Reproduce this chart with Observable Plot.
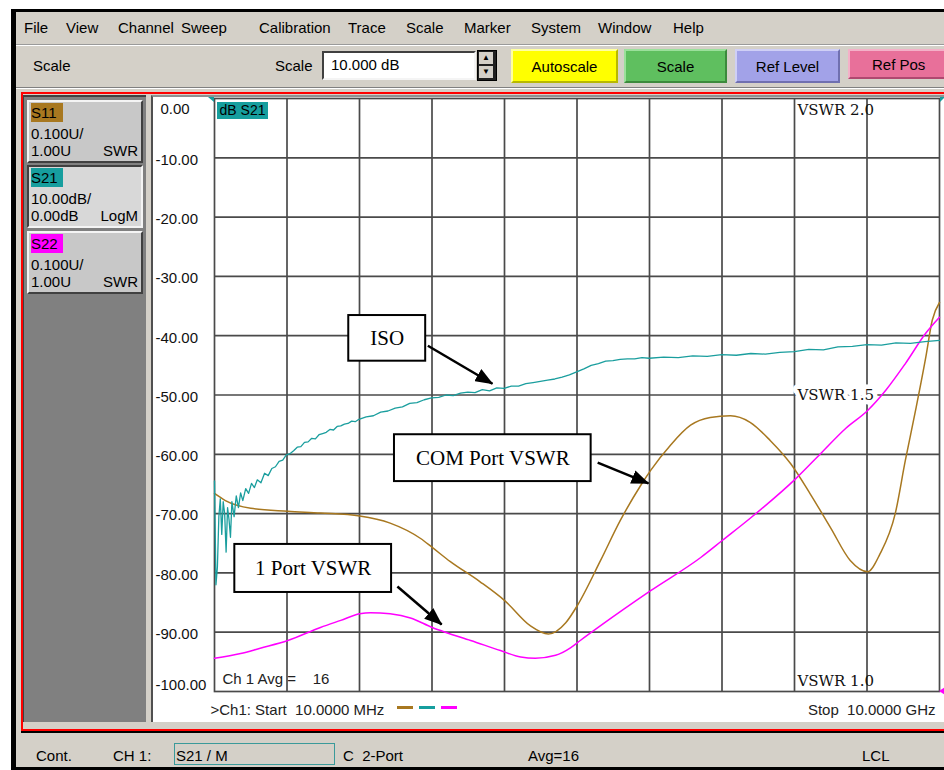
<!DOCTYPE html>
<html>
<head>
<meta charset="utf-8">
<script src="https://cdn.jsdelivr.net/npm/d3@7"></script>
<script src="https://cdn.jsdelivr.net/npm/@observablehq/plot@0.6"></script>
<style>
html,body{margin:0;padding:0;background:#fff;}
body{width:944px;height:770px;position:relative;overflow:hidden;font-family:"Liberation Sans",Arial,sans-serif;font-size:15px;color:#000;}
.a{position:absolute;white-space:pre;line-height:17px;}
.btn{position:absolute;top:49px;height:30px;border:2px solid;border-color:#f0f0f0 #6a6a6a #6a6a6a #f0f0f0;display:flex;align-items:center;justify-content:center;}
.tb{position:absolute;left:27px;width:112px;height:59px;background:#c8c8c8;border:2px solid;border-color:#f4f4f4 #404040 #404040 #f4f4f4;}
.tb .lab{position:absolute;left:2px;top:1px;width:32px;height:19px;line-height:19px;}
.tb .l1{position:absolute;left:2px;top:23px;line-height:17px;}
.tb .l2{position:absolute;left:2px;top:40px;line-height:17px;}
.tb .r2{position:absolute;right:3px;top:40px;line-height:17px;}
svg text{white-space:pre;}
</style>
</head>
<body>
<!-- window frame -->
<div class="a" style="left:11px;top:9px;width:940px;height:761px;background:#000"></div>
<div class="a" style="left:16px;top:12px;width:930px;height:755px;background:#d4d0c8"></div>
<div class="a" style="left:16px;top:44px;width:930px;height:1px;background:#9a9a9a"></div>
<div class="a" style="left:16px;top:45px;width:930px;height:1px;background:#fff"></div>
<div class="a" style="left:16px;top:87px;width:930px;height:1px;background:#808080"></div>
<div class="a" style="left:16px;top:88px;width:930px;height:1px;background:#fff"></div>

<!-- menu -->
<div id="menu"></div>

<!-- toolbar -->
<div class="a" style="left:33px;top:57px">Scale</div>
<div class="a" style="left:275px;top:57px">Scale</div>
<div class="a" style="left:322px;top:51px;width:150px;height:25px;background:#fff;border:2px solid;border-color:#404040 #f4f4f4 #f4f4f4 #404040"></div>
<div class="a" style="left:331px;top:56px">10.000 dB</div>
<div class="a" style="left:477px;top:50px;width:18px;height:29px;background:#202020;border:1px solid #000"></div>
<div class="a" style="left:479px;top:52px;width:14px;height:12px;background:#d4d0c8;font-size:8px;line-height:12px;text-align:center">▲</div>
<div class="a" style="left:479px;top:66px;width:14px;height:12px;background:#d4d0c8;font-size:8px;line-height:12px;text-align:center">▼</div>
<div class="btn" style="left:511px;width:103px;background:#ffff00;border-color:#ffffa0 #b8b800 #b8b800 #ffffa0">Autoscale</div>
<div class="btn" style="left:624px;width:99px;background:#5fbf5f;border-color:#9be09b #3c8a3c #3c8a3c #9be09b">Scale</div>
<div class="btn" style="left:735px;width:101px;background:#a2a2e8;border-color:#cfcff6 #7070b0 #7070b0 #cfcff6">Ref Level</div>
<div class="btn" style="left:848px;background:#e8709a;border-color:#f4b0c8 #b04870 #b04870 #f4b0c8;justify-content:flex-start;padding-left:22px;box-sizing:border-box;width:114px">Ref Pos</div>

<!-- red frame -->
<div class="a" style="left:21px;top:92px;width:930px;height:639px;border:2px solid #ff0000;box-sizing:border-box"></div>
<div class="a" style="left:21px;top:731px;width:930px;height:2px;background:#000"></div>

<!-- left trace panel -->
<div class="a" style="left:23px;top:95px;width:123px;height:627px;background:#808080;border-top:2px solid #404040;border-left:1px solid #404040;box-sizing:border-box"></div>
<div class="tb" style="top:100px">
  <div class="lab" style="background:#a87820">S11</div>
  <div class="l1">0.100U/</div>
  <div class="l2">1.00U</div>
  <div class="r2">SWR</div>
</div>
<div class="tb" style="top:165px;background:#d8d8d8;border-color:#404040 #f4f4f4 #f4f4f4 #404040">
  <div class="lab" style="background:#169e9e">S21</div>
  <div class="l1">10.00dB/</div>
  <div class="l2">0.00dB</div>
  <div class="r2">LogM</div>
</div>
<div class="tb" style="top:231px">
  <div class="lab" style="background:#ff00ff">S22</div>
  <div class="l1">0.100U/</div>
  <div class="l2">1.00U</div>
  <div class="r2">SWR</div>
</div>

<!-- chart panel -->
<div class="a" style="left:151px;top:95px;width:793px;height:627px;background:#fff;border-left:2px solid #505050;border-top:2px solid #909090;box-sizing:border-box"></div>
<div id="chart" class="a" style="left:153px;top:97px;width:791px;height:625px"></div>
<div class="a" style="left:217px;top:102px;width:51px;height:17px;background:#169e9e;font-size:14px;line-height:17px;text-align:center">dB S21</div>
<div class="a" style="left:208px;top:97px;width:0;height:0;border-left:6px solid transparent;border-top:5px solid #169e9e"></div>
<div class="a" style="left:940px;top:97px;width:0;height:0;border-right:5px solid transparent;border-top:5px solid #169e9e"></div>
<div class="a" style="left:939px;top:687px;width:0;height:0;border-top:4px solid transparent;border-bottom:4px solid transparent;border-right:6px solid #ff00ff"></div>
<div class="a" style="left:397px;top:706px;width:16px;height:3px;background:#a87820"></div>
<div class="a" style="left:419px;top:706px;width:16px;height:3px;background:#169e9e"></div>
<div class="a" style="left:441px;top:706px;width:16px;height:3px;background:#ff00ff"></div>

<!-- status bar -->
<div class="a" style="left:36px;top:747px">Cont.</div>
<div class="a" style="left:113px;top:747px">CH 1:</div>
<div class="a" style="left:174px;top:743px;width:161px;height:22px;border:1px solid #3a9a9a;box-sizing:border-box"></div>
<div class="a" style="left:176px;top:747px">S21 / M</div>
<div class="a" style="left:343px;top:747px">C  2-Port</div>
<div class="a" style="left:528px;top:747px">Avg=16</div>
<div class="a" style="left:862px;top:747px">LCL</div>

<script>
// ---------- data ----------
const menuItems = ["File","View","Channel","Sweep","Calibration","Trace","Scale","Marker","System","Window","Help"];
const menuX = [24,66,118,181,259,348,406,464,531,598,673];

const startGHz = 0.01, stopGHz = 10;
const divisions = 10;
const dbPerDiv = 10, refDb = 0;          // S21 LogM, ref at top
const swrPerDiv = 0.1, swrRef = 1.0;     // S11/S22 SWR, ref at bottom

const yTicks = [0,-10,-20,-30,-40,-50,-60,-70,-80,-90,-100];
const yTickLabels = ["0.00","-10.00","-20.00","-30.00","-40.00","-50.00","-60.00","-70.00","-80.00","-90.00","-100.00"];
const vswrMarks = [2.0, 1.5, 1.0];

// S21 isolation (dB)
const s21Freq = [0.01,0.03,0.05,0.07,0.09,0.11,0.13,0.15,0.17,0.19,0.21,0.23,0.25,0.28,0.31,0.34,0.37,0.40,0.44,0.48,
  0.52,0.56,0.60,0.65,0.70,0.75,0.80,0.85,0.90,0.95,1.00,1.05,1.10,1.15,1.20,1.25,1.30,1.35,1.40,1.45,
  1.50,1.55,1.60,1.65,1.70,1.75,1.80,1.85,1.90,1.95,2.00,2.10,2.20,2.30,2.40,2.50,2.60,2.70,2.80,2.90,
  3.00,3.10,3.20,3.30,3.40,3.50,3.60,3.70,3.80,3.90,4.00,4.10,4.20,4.30,4.40,4.50,4.60,4.70,4.80,4.90,
  5.00,5.10,5.20,5.30,5.40,5.50,5.60,5.70,5.80,5.90,6.00,6.20,6.40,6.60,6.80,7.00,7.20,7.40,7.60,7.80,
  8.00,8.20,8.40,8.60,8.80,9.00,9.20,9.40,9.60,9.80,10.00];
const s21Db = [-64.5,-82.0,-79.0,-70.5,-67.5,-73.5,-68.0,-70.0,-76.5,-69.0,-71.0,-74.0,-68.0,-70.5,-67.0,-69.0,-66.5,-67.8,-65.8,-66.6,
  -64.9,-65.6,-64.3,-64.8,-63.2,-63.6,-62.4,-62.1,-61.2,-61.0,-60.1,-59.9,-59.4,-58.8,-58.7,-58.0,-57.9,-57.3,-57.4,-56.7,
  -56.5,-56.3,-55.8,-55.9,-55.3,-55.2,-54.9,-54.8,-54.4,-54.5,-54.1,-53.7,-53.5,-52.9,-52.7,-52.2,-52.0,-51.4,-51.3,-50.8,
  -50.5,-50.4,-50.0,-50.1,-49.7,-49.5,-49.6,-49.1,-49.3,-48.8,-48.9,-48.5,-48.5,-48.1,-47.9,-47.7,-47.5,-47.3,-47.0,-46.6,
  -46.1,-45.6,-45.0,-44.7,-44.3,-44.2,-44.0,-43.9,-43.9,-43.7,-43.8,-43.6,-43.7,-43.4,-43.5,-43.2,-43.3,-43.0,-43.1,-42.8,
  -42.7,-42.3,-42.4,-41.9,-41.8,-41.5,-41.6,-41.2,-41.3,-41.0,-40.8];

// S11 COM port VSWR
const s11Freq = [0.01,0.16,0.51,1.02,1.47,2.01,2.43,2.85,3.01,3.26,3.67,4.02,4.36,4.61,4.85,5.01,5.33,5.60,5.88,6.02,
  6.29,6.57,6.84,7.12,7.39,7.67,7.95,8.22,8.50,8.77,9.01,9.18,9.39,9.53,9.67,9.81,9.90,10.0];
const s11Swr = [1.334,1.322,1.309,1.304,1.301,1.296,1.284,1.258,1.243,1.219,1.185,1.152,1.111,1.097,1.116,1.145,1.221,1.288,1.347,1.373,
  1.415,1.449,1.462,1.465,1.454,1.423,1.384,1.333,1.276,1.221,1.202,1.232,1.300,1.390,1.474,1.563,1.626,1.656];

// S22 1 port VSWR
const s22Freq = [0.01,0.37,0.64,1.02,1.47,1.75,2.01,2.16,2.43,2.71,3.01,3.19,3.54,3.95,4.23,4.43,4.71,4.92,5.05,5.33,
  6.02,6.71,7.01,7.40,8.02,8.36,8.71,9.01,9.26,9.53,9.81,10.0];
const s22Swr = [1.056,1.064,1.073,1.086,1.108,1.120,1.131,1.133,1.131,1.124,1.108,1.100,1.086,1.069,1.058,1.056,1.061,1.074,1.086,1.111,
  1.170,1.226,1.255,1.293,1.359,1.401,1.444,1.474,1.508,1.553,1.604,1.631];

// annotations (in GHz / grid dB)
const annotLabels = ["ISO","COM Port VSWR","1 Port VSWR"];
const annotBoxX = [[1.86,2.92],[2.49,5.20],[0.29,2.45]];
const annotBoxY = [[-36.6,-44.3],[-56.7,-64.6],[-75.2,-83.3]];
const arrowFrom = [[2.95,-41.7],[5.29,-61.4],[2.53,-82.3]];
const arrowTo   = [[3.84,-48.1],[5.99,-64.9],[3.14,-88.7]];

const avgText = "Ch 1 Avg =    16";

// ---------- build ----------
const menu = document.getElementById("menu");
menuItems.forEach((m,i)=>{
  const d=document.createElement("div");d.className="a";d.textContent=m;
  d.style.left=menuX[i]+"px";d.style.top="19px";menu.appendChild(d);
});

const BROWN="#a87820", TEAL="#1a9e9e", MAG="#ff00ff", GRID="#4a4a4a";
const swrToGrid = s => -100 + (s - swrRef) / swrPerDiv * dbPerDiv;
const xGrid = d3.range(divisions+1).map(i => startGHz + i*(stopGHz-startGHz)/divisions);

const s21 = s21Freq.map((f,i)=>({f, v:s21Db[i]}));
const s11 = s11Freq.map((f,i)=>({f, v:swrToGrid(s11Swr[i])}));
const s22 = s22Freq.map((f,i)=>({f, v:swrToGrid(s22Swr[i])}));
const boxes = annotLabels.map((t,i)=>({t, x1:annotBoxX[i][0], x2:annotBoxX[i][1], y1:annotBoxY[i][0], y2:annotBoxY[i][1]}));
const arrows = arrowFrom.map((a,i)=>({x1:a[0], y1:a[1], x2:arrowTo[i][0], y2:arrowTo[i][1]}));

const midTicks = yTicks.slice(1,-1);
const tickLab = v => yTickLabels[yTicks.indexOf(v)];
const vswrDy = [12, 0, -10];

const chart = Plot.plot({
  width: 791, height: 625,
  marginLeft: 61, marginRight: 5, marginTop: 1, marginBottom: 31,
  x: {domain: [startGHz, stopGHz], axis: null},
  y: {domain: [-100, 0], axis: null},
  style: {background: "transparent", fontFamily: "Liberation Sans, Arial, sans-serif", fontSize: "15px", overflow: "visible", color: "#000"},
  marks: [
    Plot.ruleX(xGrid.slice(1,-1), {stroke: GRID, strokeWidth: 1.7}),
    Plot.ruleY(midTicks, {stroke: GRID, strokeWidth: 1.7}),
    Plot.frame({stroke: GRID, strokeWidth: 1.7}),
    // y tick labels
    Plot.text(midTicks, {y: d=>d, text: tickLab, frameAnchor: "left", textAnchor: "start", dx: -59, dy: 2, fill: "#111"}),
    Plot.text([0], {y: d=>d, text: tickLab, frameAnchor: "left", textAnchor: "start", dx: -54, dy: 11, fill: "#111"}),
    Plot.text([-100], {y: d=>d, text: tickLab, frameAnchor: "left", textAnchor: "start", dx: -59, dy: -6, fill: "#111"}),
    // VSWR labels
    ...vswrMarks.map((s,i)=> Plot.text([s], {x: xGrid[8], y: d=>swrToGrid(d), text: d=>"VSWR " + d.toFixed(1),
        fontFamily: "DejaVu Serif", fontSize: 15, textAnchor: "start", dx: 3, dy: vswrDy[i],
        fill: "#111", stroke: i===1 ? "white" : "none", strokeWidth: 9, paintOrder: "stroke"})),
    // traces
    Plot.line(s11, {x: "f", y: "v", stroke: BROWN, strokeWidth: 1.5, curve: "monotone-x"}),
    Plot.line(s22, {x: "f", y: "v", stroke: MAG, strokeWidth: 1.5, curve: "monotone-x"}),
    Plot.line(s21, {x: "f", y: "v", stroke: TEAL, strokeWidth: 1.3}),
    // annotations
    Plot.rect(boxes, {x1: "x1", x2: "x2", y1: "y1", y2: "y2", fill: "white", stroke: "black", strokeWidth: 2}),
    Plot.text(boxes, {x: d=>(d.x1+d.x2)/2, y: d=>(d.y1+d.y2)/2, text: "t", fontFamily: "Liberation Serif, Times New Roman, serif", fontSize: 21, fill: "black"}),
    Plot.link(arrows, {x1: "x1", y1: "y1", x2: "x2", y2: "y2", stroke: "black", strokeWidth: 2.5}),
    // in-plot and footer texts
    Plot.text([avgText], {text: d=>d, frameAnchor: "bottom-left", textAnchor: "start", lineAnchor: "middle", dx: 8, dy: -12, fill: "#222"}),
    Plot.text([">Ch1: Start  " + (startGHz*1000).toFixed(4) + " MHz"], {text: d=>d, frameAnchor: "bottom-left", textAnchor: "start", lineAnchor: "middle", dx: -4, dy: 19, fill: "#222"}),
    Plot.text(["Stop  " + stopGHz.toFixed(4) + " GHz"], {text: d=>d, frameAnchor: "bottom-right", textAnchor: "end", lineAnchor: "middle", dx: -4, dy: 19, fill: "#222"})
  ]
});

// filled arrow heads
const sel = d3.select(chart);
const mk = sel.append("defs").append("marker")
  .attr("id","ah").attr("viewBox","0 0 18 14").attr("markerWidth",18).attr("markerHeight",14)
  .attr("refX",17).attr("refY",7).attr("orient","auto").attr("markerUnits","userSpaceOnUse");
mk.append("path").attr("d","M0,0L18,7L0,14Z").attr("fill","#000");
sel.selectAll('g[aria-label="link"] path').attr("marker-end","url(#ah)");

document.getElementById("chart").appendChild(chart);
</script>
</body>
</html>
